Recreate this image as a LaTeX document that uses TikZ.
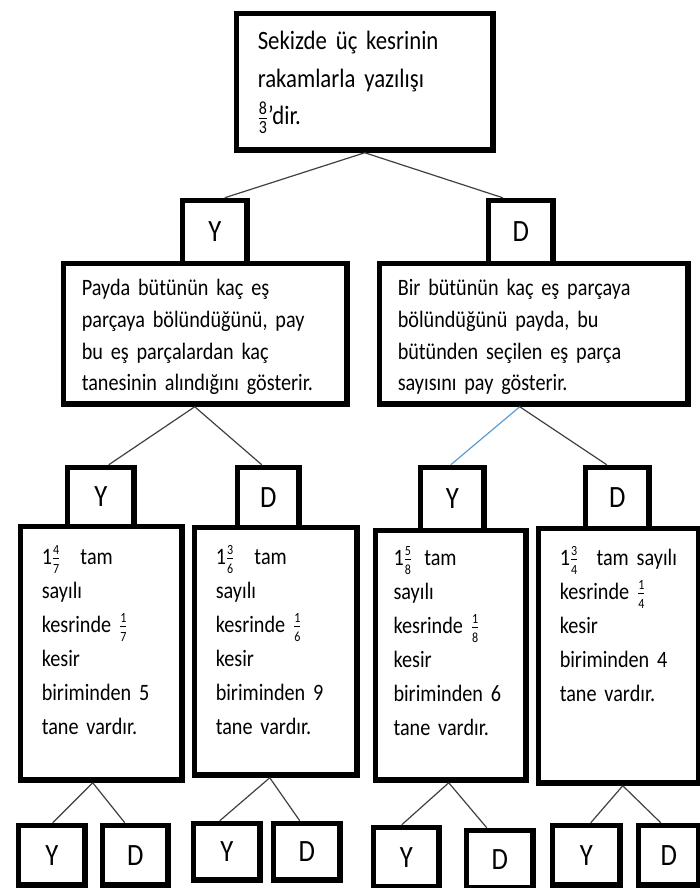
\documentclass[tikz,border=0pt]{standalone}
\usepackage{amsmath}
\usepackage{fontspec}
\setmainfont{Carlito}[FakeStretch=0.86,WordSpace=0.75]
\DeclareMathSizes{23.5}{23.5}{14}{10}
\usepackage{tikz}
\usetikzlibrary{arrows.meta,positioning,calc}
\definecolor{linkblue}{RGB}{91,155,213}

\begin{document}
\begin{tikzpicture}[x=1pt,y=-1pt,
    box/.style={draw,line width=5.5pt,anchor=north west,inner ysep=0pt,inner xsep=21.25pt,align=left},
    midbox/.style={box,inner xsep=18.25pt,text height=32.25pt,text depth=108.25pt,font=\fontsize{23.5}{31.7}\selectfont},
    tallbox/.style={box,font=\fontsize{23.5}{34}\selectfont},
    yd/.style={draw,line width=5.5pt,anchor=north west,inner sep=0pt,font=\fontsize{31}{31}\selectfont},
    link/.style={draw=black!75,line width=1.2pt}]
    \useasboundingbox (0,0) rectangle (699,888);
    % Question
    \node[box,text width=214pt,text height=36.25pt,text depth=100.25pt,font=\fontsize{26.5}{37.5}\selectfont] (q) at (233.75,10.75)
      {Sekizde üç kesrinin\\ rakamlarla yazılışı\\ $\frac{\text{8}}{\text{3}}$’dir.};
    \node[yd,minimum width=64.5pt,minimum height=63pt] (y1) at (179.75,197.75) {Y};
    \node[yd,minimum width=64.5pt,minimum height=63pt] (d1) at (485.75,197.75) {D};
    \draw[link] (q.south) -- ([xshift=10pt]y1.north);
    \draw[link] (q.south) -- ([xshift=-18pt]d1.north);
    % Second level
    \node[midbox,text width=247pt] (ml) at (60.75,260.75)
      {Payda bütünün kaç eş\\ parçaya bölündüğünü, pay\\ bu eş parçalardan kaç\\ tanesinin alındığını gösterir.};
    \node[midbox,text width=272pt] (mr) at (376.75,260.75)
      {Bir bütünün kaç eş parçaya\\ bölündüğünü payda, bu\\ bütünden seçilen eş parça\\ sayısını pay gösterir.};
    \node[yd,minimum width=66.5pt,minimum height=59pt] (y2a) at (64.75,464.75) {Y};
    \node[yd,minimum width=61.5pt,minimum height=60pt] (d2a) at (234.75,464.75) {D};
    \node[yd,minimum width=63.5pt,minimum height=63pt] (y2b) at (417.75,464.75) {Y};
    \node[yd,minimum width=63.5pt,minimum height=61pt] (d2b) at (582.75,464.75) {D};
    \draw[link] ([xshift=-10.5pt]ml.south) -- ([xshift=8pt]y2a.north);
    \draw[link] ([xshift=-10.5pt]ml.south) -- ([xshift=-6.5pt]d2a.north);
    \draw[link,draw=linkblue] ([xshift=-14pt]mr.south) -- ([xshift=-1.5pt]y2b.north);
    \draw[link] ([xshift=-14pt]mr.south) -- ([xshift=-10.5pt]d2b.north);
    % Third level
    \node[tallbox,text width=119pt,text height=38.25pt,text depth=215.25pt] (ta) at (17.75,523.75)
      {1$\frac{\text{4}}{\text{7}}$\hspace{20pt}tam\\ sayılı\\ kesrinde $\frac{\text{1}}{\text{7}}$\\ kesir\\ biriminden 5\\ tane vardır.};
    \node[tallbox,text width=120pt,text height=37.25pt,text depth=210.25pt] (tb) at (191.75,524.75)
      {1$\frac{\text{3}}{\text{6}}$\hspace{20pt}tam\\ sayılı\\ kesrinde $\frac{\text{1}}{\text{6}}$\\ kesir\\ biriminden 9\\ tane vardır.};
    \node[tallbox,inner xsep=18pt,text width=114.5pt,text height=35.25pt,text depth=214.25pt] (tc) at (372.75,527.75)
      {1$\frac{\text{5}}{\text{8}}$\hspace{12pt}tam\\ sayılı\\ kesrinde $\frac{\text{1}}{\text{8}}$\\ kesir\\ biriminden 6\\ tane vardır.};
    \node[tallbox,text width=118pt,text height=37.25pt,text depth=217.25pt] (td) at (535.75,525.75)
      {\mbox{1$\frac{\text{3}}{\text{4}}$\hspace{18pt}tam sayılı}\\ kesrinde $\frac{\text{1}}{\text{4}}$\\ kesir\\ biriminden 4\\ tane vardır.};
    % Last level
    \node[yd,minimum width=66.5pt,minimum height=59.5pt] (y3a) at (15.75,822.75) {Y};
    \node[yd,minimum width=65.5pt,minimum height=59.5pt] (d3a) at (99.75,822.75) {D};
    \node[yd,minimum width=66.5pt,minimum height=56.5pt] (y3b) at (190.75,820.75) {Y};
    \node[yd,minimum width=66.5pt,minimum height=56.5pt] (d3b) at (270.75,820.75) {D};
    \node[yd,minimum width=65.5pt,minimum height=59.5pt] (y3c) at (370.75,824.75) {Y};
    \node[yd,minimum width=66.5pt,minimum height=57.5pt] (d3c) at (463.75,827.75) {D};
    \node[yd,minimum width=67.5pt,minimum height=59.5pt] (y3d) at (549.75,822.75) {Y};
    \node[yd,minimum width=60.5pt,minimum height=59.5pt] (d3d) at (635.75,822.75) {D};
    \draw[link] ([xshift=-8.5pt]ta.south) -- ([xshift=1pt]y3a.north);
    \draw[link] ([xshift=-8.5pt]ta.south) -- ([xshift=-10.5pt]d3a.north);
    \draw[link] ([xshift=-6pt]tb.south) -- ([xshift=-7pt]y3b.north);
    \draw[link] ([xshift=-6pt]tb.south) -- ([xshift=-7pt]d3b.north);
    \draw[link] ([xshift=-2pt]tc.south) -- ([xshift=-4.5pt]y3c.north);
    \draw[link] ([xshift=-2pt]tc.south) -- ([xshift=-13pt]d3c.north);
    \draw[link] ([xshift=4pt]td.south) -- ([xshift=4.5pt]y3d.north);
    \draw[link] ([xshift=4pt]td.south) -- ([xshift=-8pt]d3d.north);
\end{tikzpicture}
\end{document}
